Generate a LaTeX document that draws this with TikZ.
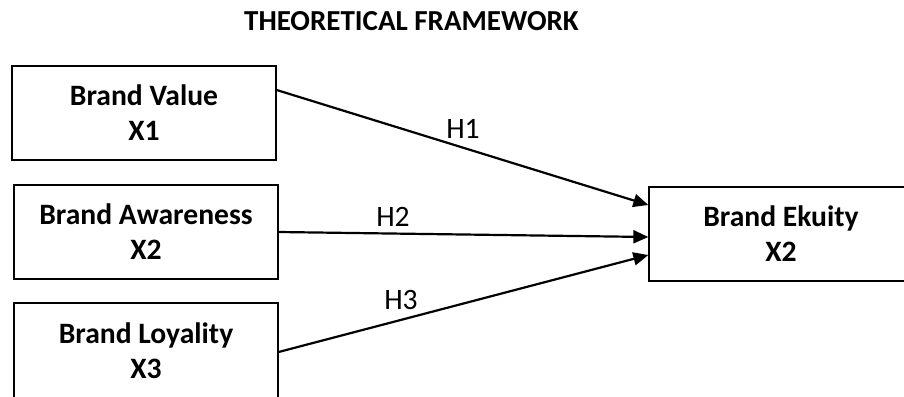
\documentclass[tikz,border=0pt]{standalone}
\usepackage{fontspec}
\setmainfont{Carlito}
\usetikzlibrary{arrows.meta}
\begin{document}
\begin{tikzpicture}[x=1pt,y=-1pt,
  box/.style={draw=black,line width=1.3pt,minimum width=264pt,minimum height=94pt,inner sep=0pt,align=center,font=\fontsize{29.6}{35}\selectfont\bfseries},
  link/.style={line width=2.2pt,-{Triangle[length=15pt,width=13pt]}},
  hlabel/.style={font=\fontsize{29.6}{35}\selectfont}]
\useasboundingbox (0,0) rectangle (904,396);
\node[font=\fontsize{29}{34}\selectfont\bfseries] (title) at (411.5,21) {THEORETICAL FRAMEWORK};
\node[box] (b1) at (144,113) {Brand Value\\X1};
\node[box] (b2) at (146,232) {Brand Awareness\\X2};
\node[box,minimum height=96pt] (b3) at (146,351) {Brand Loyality\\X3};
\node[box] (be) at (781,234) {Brand Ekuity\\X2};
\draw[link] ([yshift=23pt]b1.east) -- ([yshift=29pt]be.west);
\draw[link] (b2.east) -- ([yshift=-3pt]be.west);
\draw[link] ([yshift=-1pt]b3.east) -- ([yshift=-21pt]be.west);
\node[hlabel] (h1) at (463,129) {H1};
\node[hlabel] (h2) at (393,217) {H2};
\node[hlabel] (h3) at (401,300) {H3};
\end{tikzpicture}
\end{document}
